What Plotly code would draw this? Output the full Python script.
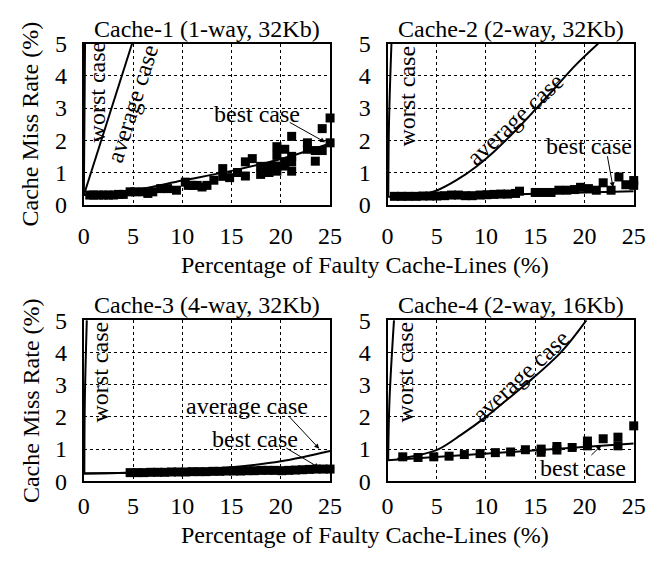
import plotly.graph_objects as go

W, H = 672, 563
FONT = "Liberation Serif, Times New Roman, serif"
FS = 24

titles = ["Cache-1 (1-way, 32Kb)", "Cache-2 (2-way, 32Kb)",
          "Cache-3 (4-way, 32Kb)", "Cache-4 (2-way, 16Kb)"]
x_ticks = [0, 5, 10, 15, 20, 25]
y_ticks = [0, 1, 2, 3, 4, 5]
x_title = "Percentage of Faulty Cache-Lines (%)"
y_title = "Cache Miss Rate (%)"

# ---- Cache-1 ----
worst1_x = [0.0, 0.12]
worst1_y = [0.3, 5.0]
avg1_x = [0.0, 4.9]
avg1_y = [0.3, 5.0]
best1_x = [0, 5, 10, 15, 20, 25]
best1_y = [0.3, 0.45, 0.75, 1.05, 1.42, 1.9]
pts1_x = [0.6, 1.0, 1.5, 2.0, 2.5, 3.0, 3.5, 4.0, 4.7, 5.2, 6.0, 6.5, 7.0, 7.8, 8.5,
          9.4, 10.3, 10.6, 11.0, 11.5, 12.0, 12.5, 13.2, 14.1, 14.1, 14.8, 15.6, 16.4,
          16.4, 17.1, 17.95, 17.95, 18.8, 18.8, 19.6, 19.6, 19.6, 19.6, 20.4, 20.4, 20.4,
          21.1, 21.1, 21.1, 21.1, 22.7, 22.7, 23.5, 23.5, 24.2, 24.2, 25.0, 25.0]
pts1_y = [0.3, 0.3, 0.3, 0.3, 0.3, 0.3, 0.32, 0.32, 0.4, 0.4, 0.4, 0.35, 0.4, 0.5, 0.5,
          0.45, 0.7, 0.6, 0.6, 0.6, 0.55, 0.6, 0.76, 1.12, 0.88, 0.84, 1.0, 1.33,
          0.89, 1.43, 1.19, 0.94, 1.19, 1.0, 1.8, 1.53, 1.04, 1.2, 1.72, 1.33, 1.2,
          2.12, 1.5, 1.33, 1.04, 1.92, 1.72, 1.68, 1.35, 2.36, 1.68, 2.69, 1.92]

# ---- Cache-2 ----
worst2_x = [0.08, 0.15, 0.4]
worst2_y = [0.25, 2.5, 5.0]
avg2_x = [3.0, 5.0, 7.0, 9.0, 11.0, 13.0, 15.0, 17.0, 19.0, 21.4]
avg2_y = [0.27, 0.44, 0.76, 1.18, 1.7, 2.3, 2.95, 3.62, 4.3, 5.0]
best2_x = [0, 5, 10, 15, 20, 25]
best2_y = [0.25, 0.27, 0.3, 0.34, 0.38, 0.42]
pts2_x = [0.7, 1.4, 2.1, 2.9, 3.6, 4.3, 5.0, 5.8, 6.5, 7.2, 7.9, 8.6, 9.4, 10.1, 10.8,
          11.5, 12.2, 13.0, 13.4, 15.0, 15.8, 16.6, 17.4, 18.2, 19.0, 19.6, 20.4, 21.2,
          21.9, 22.7, 23.5, 24.2, 25.0, 25.0]
pts2_y = [0.26, 0.26, 0.26, 0.26, 0.27, 0.27, 0.27, 0.28, 0.3, 0.3, 0.28, 0.28, 0.3,
          0.31, 0.32, 0.33, 0.33, 0.35, 0.42, 0.38, 0.38, 0.38, 0.45, 0.45, 0.47, 0.54,
          0.5, 0.45, 0.68, 0.45, 0.86, 0.62, 0.75, 0.6]

# ---- Cache-3 ----
worst3_x = [0.05, 0.1, 0.3]
worst3_y = [0.25, 2.5, 5.0]
avg3_x = [0, 5, 10, 15, 20, 25]
avg3_y = [0.24, 0.27, 0.34, 0.44, 0.62, 0.94]
best3_x = [0, 25]
best3_y = [0.24, 0.36]
pts3_x = [4.7, 5.4, 6.1, 6.8, 7.5, 8.2, 8.9, 9.6, 10.3, 11.0, 11.7, 12.4, 13.1, 13.8,
          14.5, 15.2, 15.9, 16.6, 17.3, 18.0, 18.7, 19.4, 20.1, 20.8, 21.5, 22.2, 22.9,
          23.6, 24.3, 25.0]
pts3_y = [0.27, 0.27, 0.27, 0.28, 0.28, 0.28, 0.29, 0.29, 0.29, 0.3, 0.3, 0.3, 0.31,
          0.31, 0.32, 0.32, 0.32, 0.33, 0.33, 0.34, 0.34, 0.34, 0.33, 0.34, 0.35, 0.36,
          0.37, 0.38, 0.38, 0.38]

# ---- Cache-4 ----
worst4_x = [0.07, 0.2, 0.66]
worst4_y = [0.66, 2.5, 5.0]
avg4_x = [1.0, 3.0, 5.2, 7.5, 10.0, 12.0, 14.0, 17.6, 20.2]
avg4_y = [0.7, 0.8, 1.0, 1.45, 2.0, 2.5, 3.0, 4.0, 5.0]
best4_x = [0, 25]
best4_y = [0.65, 1.17]
pts4_x = [1.55, 3.1, 4.7, 6.25, 7.8, 9.4, 10.95, 12.5, 14.0, 15.6, 15.6, 17.2, 17.2,
          18.75, 20.3, 20.3, 21.9, 23.4, 23.4, 25.0]
pts4_y = [0.76, 0.74, 0.76, 0.78, 0.83, 0.86, 0.89, 0.91, 0.98, 1.0, 0.9, 1.08, 0.97,
          1.05, 1.25, 1.1, 1.32, 1.37, 1.1, 1.72]

panels = [
    (worst1_x, worst1_y, avg1_x, avg1_y, best1_x, best1_y, pts1_x, pts1_y),
    (worst2_x, worst2_y, avg2_x, avg2_y, best2_x, best2_y, pts2_x, pts2_y),
    (worst3_x, worst3_y, avg3_x, avg3_y, best3_x, best3_y, pts3_x, pts3_y),
    (worst4_x, worst4_y, avg4_x, avg4_y, best4_x, best4_y, pts4_x, pts4_y),
]

# pixel boxes of plot areas (left, right, top, bottom)
boxes = [(80, 333, 32, 201), (392, 645, 32, 201), (80, 333, 322, 491), (392, 645, 322, 491)]

fig = go.Figure()
line_style = dict(color="black", width=2)

for i, (wx, wy, ax_, ay_, bx, by, px, py) in enumerate(panels):
    xr = "x" if i == 0 else f"x{i+1}"
    yr = "y" if i == 0 else f"y{i+1}"
    fig.add_trace(go.Scatter(x=px, y=py, mode="markers", xaxis=xr, yaxis=yr,
                             marker=dict(symbol="square", size=9, color="black"),
                             cliponaxis=False))
    fig.add_trace(go.Scatter(x=bx, y=by, mode="lines", xaxis=xr, yaxis=yr,
                             line=dict(shape="spline", **line_style)))
    fig.add_trace(go.Scatter(x=ax_, y=ay_, mode="lines", xaxis=xr, yaxis=yr,
                             line=dict(shape="spline", **line_style)))
    fig.add_trace(go.Scatter(x=wx, y=wy, mode="lines", xaxis=xr, yaxis=yr,
                             line=dict(shape="spline", **line_style)))

layout = dict(width=W, height=H, margin=dict(l=0, r=0, t=0, b=0),
              paper_bgcolor="white", plot_bgcolor="white", showlegend=False,
              font=dict(family=FONT, size=FS, color="black"))

for i, (l, r, t, b) in enumerate(boxes):
    sx = "" if i == 0 else str(i + 1)
    common = dict(showline=True, mirror=True, linecolor="black", linewidth=2,
                  showgrid=True, gridcolor="black", gridwidth=1, griddash="dot",
                  zeroline=False, ticks="",
                  tickfont=dict(family=FONT, size=FS, color="black"))
    xs = 8 if i < 2 else 2
    layout["xaxis" + sx] = dict(domain=[l / W, r / W], range=[0, 25], tickvals=x_ticks,
                                anchor="y" + sx, ticklabelstandoff=xs, **common)
    layout["yaxis" + sx] = dict(domain=[1 - b / H, 1 - t / H], range=[0, 5], tickvals=y_ticks,
                                anchor="x" + sx, ticklabelstandoff=10, **common)

fig.update_layout(**layout)

ann = []
txt = dict(family=FONT, size=FS, color="black")
# panel titles
for i, (l, r, t, b) in enumerate(boxes):
    ann.append(dict(text=titles[i], xref="paper", yref="paper", x=(l + r) / 2 / W,
                    y=1 - t / H, xanchor="center", yanchor="middle", showarrow=False,
                    font=txt, yshift=15))
# axis titles
for (t, b) in [(32, 201), (322, 491)]:
    ann.append(dict(text=y_title, xref="paper", yref="paper", x=25 / W,
                    y=1 - (t + b) / 2 / H, textangle=-90, showarrow=False, font=txt,
                    xanchor="center", yanchor="middle"))
for yc in [264, 547]:
    ann.append(dict(text=x_title, xref="paper", yref="paper", x=369 / W, y=1 - yc / H,
                    showarrow=False, font=txt, xanchor="center", yanchor="middle"))

def label(i, text, x, y, angle=0):
    sx = "" if i == 0 else str(i + 1)
    ann.append(dict(text=text, xref="x" + sx, yref="y" + sx, x=x, y=y, textangle=angle,
                    showarrow=False, font=txt, xanchor="center", yanchor="middle"))

def arrow(i, x0, y0, x1, y1):
    sx = "" if i == 0 else str(i + 1)
    ann.append(dict(text="", xref="x" + sx, yref="y" + sx, x=x1, y=y1,
                    axref="x" + sx, ayref="y" + sx, ax=x0, ay=y0, showarrow=True,
                    arrowhead=2, arrowsize=1, arrowwidth=1, arrowcolor="black"))

label(0, "worst case", 1.32, 3.51, -90)
label(0, "average case", 4.94, 3.12, -72.5)
label(0, "best case", 17.6, 2.8)
arrow(0, 20.75, 2.58, 24.5, 1.94)

label(1, "worst case", 2.0, 3.36, -90)
label(1, "average case", 12.98, 2.66, -43)
label(1, "best case", 20.5, 1.82)
arrow(1, 22.3, 1.55, 22.9, 0.54)

label(2, "worst case", 1.65, 3.38, -90)
label(2, "average case", 16.6, 2.34)
arrow(2, 20.75, 2.04, 23.9, 1.01)
label(2, "best case", 17.4, 1.31)
arrow(2, 20.4, 1.06, 23.9, 0.42)

label(3, "worst case", 1.78, 3.38, -90)
label(3, "average case", 13.54, 3.26, -43)
label(3, "best case", 19.8, 0.41)
arrow(3, 20.55, 0.77, 21.7, 1.11)

fig.update_layout(annotations=ann)
fig.write_html("out.html", config={"displayModeBar": False},
               post_script="document.body.style.margin='0px';")
